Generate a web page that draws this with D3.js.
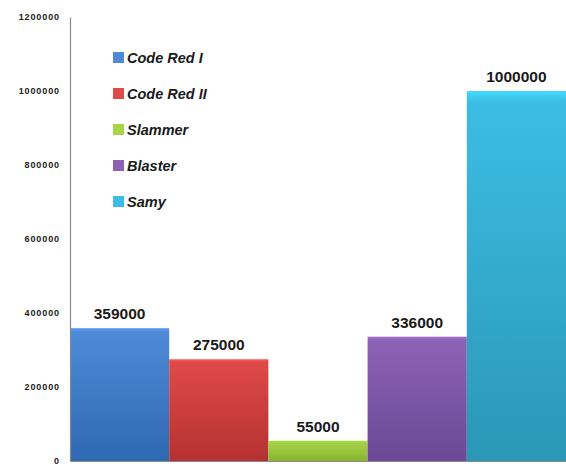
<!DOCTYPE html>
<html><head><meta charset="utf-8">
<script src="https://cdn.jsdelivr.net/npm/d3@7"></script>
<style>body{margin:0;background:#fff;}svg{display:block;}</style>
</head><body>
<svg id="c" width="566" height="466"></svg>
<script>
const categories = ["Code Red I", "Code Red II", "Slammer", "Blaster", "Samy"];
const values = [359000, 275000, 55000, 336000, 1000000];
const topColors = ["#4f8ad6", "#de4a48", "#a8d44a", "#8d62b5", "#3cbde3"];
const bottomColors = ["#2e68b3", "#b53131", "#86b52d", "#6b4896", "#2a97b6"];
const yTicks = [0, 200000, 400000, 600000, 800000, 1000000, 1200000];

const svg = d3.select("#c");
const x = d3.scaleBand().domain(categories).range([70, 566]).padding(0);
const y = d3.scaleLinear().domain([0, 1200000]).range([461, 17]);

const defs = svg.append("defs");
categories.forEach((c, i) => {
  const g = defs.append("linearGradient").attr("id", "g" + i)
    .attr("x1", 0).attr("y1", 0).attr("x2", 0).attr("y2", 1);
  g.append("stop").attr("offset", "0%").attr("stop-color", d3.color(topColors[i]).brighter(0.4));
  g.append("stop").attr("offset", "3%").attr("stop-color", topColors[i]);
  g.append("stop").attr("offset", "100%").attr("stop-color", bottomColors[i]);
});

// bars
svg.selectAll("rect.bar").data(values).join("rect")
  .attr("class", "bar")
  .attr("x", (d, i) => x(categories[i]))
  .attr("width", x.bandwidth())
  .attr("y", d => y(d))
  .attr("height", d => y(0) - y(d))
  .attr("fill", (d, i) => `url(#g${i})`);

// y axis
const yAxis = d3.axisLeft(y).tickValues(yTicks).tickSize(0).tickPadding(10).tickFormat(d3.format("d"));
const ga = svg.append("g").attr("transform", "translate(70,0)").call(yAxis);
ga.select(".domain").attr("stroke", "#8a8a8a").attr("stroke-width", 1.2);
ga.selectAll("text").attr("font-family", "Liberation Sans, Arial, sans-serif")
  .attr("font-weight", "bold").attr("font-size", 9).attr("letter-spacing", 0.9).attr("fill", "#222");

// x baseline
const xAxis = d3.axisBottom(x).tickSize(0).tickFormat("");
const gx = svg.append("g").attr("transform", `translate(0,${y(0)})`).call(xAxis);
gx.select(".domain").attr("stroke", "#8a8a8a").attr("stroke-width", 1.2);

// value labels
svg.selectAll("text.val").data(values).join("text")
  .attr("class", "val")
  .attr("x", (d, i) => x(categories[i]) + x.bandwidth() / 2)
  .attr("y", d => y(d) - 9)
  .attr("text-anchor", "middle")
  .attr("font-family", "Liberation Sans, Arial, sans-serif")
  .attr("font-weight", "bold").attr("font-size", 15.5)
  .attr("fill", "#1a1a1a")
  .text(d => d);

// legend
const leg = svg.append("g").attr("transform", "translate(113,58)");
const row = leg.selectAll("g").data(categories).join("g")
  .attr("transform", (d, i) => `translate(0,${i * 36})`);
row.append("rect").attr("x", 0).attr("y", -6).attr("width", 11).attr("height", 11)
  .attr("fill", (d, i) => topColors[i]);
row.append("text").attr("x", 14).attr("y", 5)
  .attr("font-family", "Liberation Sans, Arial, sans-serif")
  .attr("font-weight", "bold").attr("font-style", "italic").attr("font-size", 14.5)
  .attr("fill", "#1a1a1a")
  .text(d => d);
</script>
</body></html>
